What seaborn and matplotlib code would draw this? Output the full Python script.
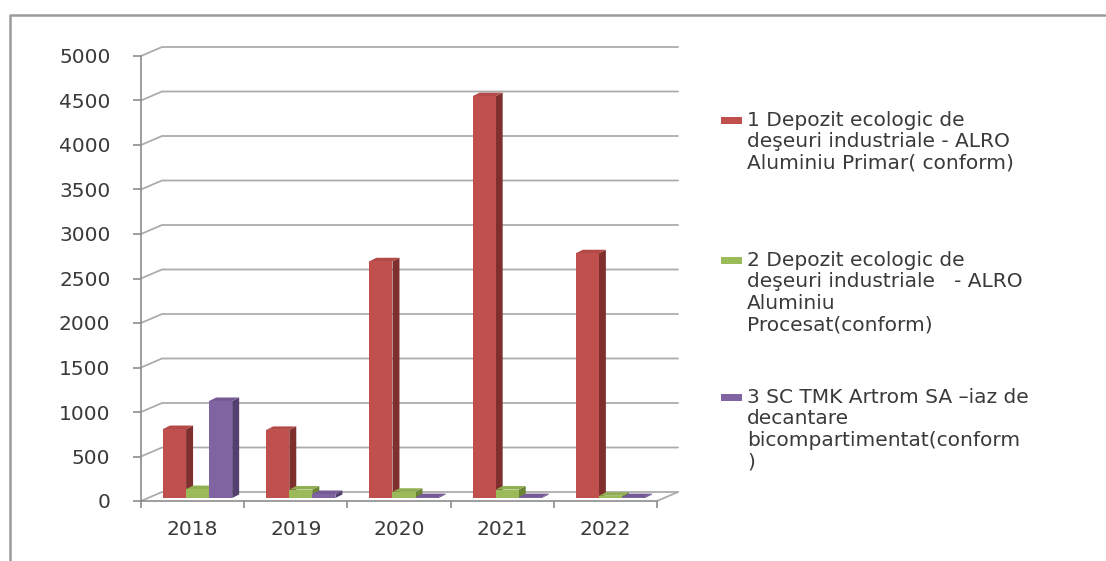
import numpy as np
import pandas as pd
import seaborn as sns
from matplotlib import pyplot as plt
from matplotlib.lines import Line2D
from matplotlib.patches import Polygon, Rectangle
from matplotlib.transforms import Affine2D, IdentityTransform

years = ['2018', '2019', '2020', '2021', '2022']
series_names = [
    '1 Depozit ecologic de\ndeşeuri industriale - ALRO\nAluminiu Primar( conform)',
    '2 Depozit ecologic de\ndeşeuri industriale   - ALRO\nAluminiu\nProcesat(conform)',
    '3 SC TMK Artrom SA \u2013iaz de\ndecantare\nbicompartimentat(conform\n)',
]
alro_primar = [775, 765, 2660, 4515, 2750]
alro_procesat = [100, 95, 70, 95, 25]
tmk_artrom = [1090, 45, 10, 10, 10]
y_ticks = list(range(0, 5001, 500))

front_colors = ['#C0504D', '#9BBB59', '#8064A2']
side_colors = ['#7F302E', '#6A8536', '#53406F']
top_colors = ['#B44A47', '#8FAE4F', '#755B96']

W, H = 1106, 561
DX, DY = 21, 9          # depth of the back wall, pixels
BX, BY = 7, 3.5         # depth of each bar, pixels
SHIFT = (5, 3)          # bars sit a little inside the box

df = pd.DataFrame({
    'year': years * 3,
    'value': alro_primar + alro_procesat + tmk_artrom,
    'series': [series_names[0]] * 5 + [series_names[1]] * 5 + [series_names[2]] * 5,
})

sns.set_style('white')
plt.rcParams['font.family'] = ['DejaVu Sans']
text_col = '#3a3a3a'
grid_col = '#acacac'

fig = plt.figure(figsize=(W / 100, H / 100), dpi=100)
ax = fig.add_axes([141 / W, 60 / H, 516 / W, 445 / H])
sns.barplot(data=df, x='year', y='value', hue='series', hue_order=series_names,
            palette=front_colors, width=0.67, saturation=1, linewidth=0,
            legend=False, ax=ax)
ax.set_xlim(-0.5, 4.5)
ax.set_ylim(0, 5000)
ax.set_xlabel('')
ax.set_ylabel('')
ax.set_yticks(y_ticks)
ax.set_xticks(range(len(years)))
ax.set_xticklabels(years)
ax.set_xticks(np.arange(-0.5, 5, 1), minor=True)
ax.tick_params(axis='y', length=6, width=1.2, color='#8c8c8c', pad=16,
               labelsize=14.5, labelcolor=text_col, left=True)
ax.tick_params(axis='x', which='major', length=0, pad=14,
               labelsize=14.5, labelcolor=text_col)
ax.tick_params(axis='x', which='minor', length=5, width=1.2, color='#8c8c8c',
               bottom=True)
for side in ['top', 'right']:
    ax.spines[side].set_visible(False)
for side in ['left', 'bottom']:
    ax.spines[side].set_color('#8c8c8c')
    ax.spines[side].set_linewidth(1.2)
    ax.spines[side].set_zorder(1.5)
ax.patch.set_alpha(0)

fig.canvas.draw()
td = ax.transData
ident = IdentityTransform()

# back wall gridlines with their slanted lead-in from the axis
for v in y_ticks:
    p = td.transform((-0.5, v))
    r = td.transform((4.5, v))
    ax.add_line(Line2D([p[0], p[0] + DX, r[0] + DX], [p[1], p[1] + DY, r[1] + DY],
                       transform=ident, color=grid_col, lw=1.3, zorder=1,
                       clip_on=False))
r0 = td.transform((4.5, 0))
ax.add_line(Line2D([r0[0], r0[0] + DX], [r0[1], r0[1] + DY], transform=ident,
                   color=grid_col, lw=1.3, zorder=1, clip_on=False))

# fake 3D depth for every bar
shift = Affine2D().translate(*SHIFT)
for i, cont in enumerate(ax.containers):
    for bar in cont:
        bar.set_transform(td + shift)
        bar.set_zorder(2.05 + i * 0.1)
        x0, y0 = td.transform((bar.get_x(), 0))
        x1, y1 = td.transform((bar.get_x() + bar.get_width(), bar.get_height()))
        x0, x1 = x0 + SHIFT[0], x1 + SHIFT[0]
        y0, y1 = y0 + SHIFT[1], y1 + SHIFT[1]
        side = [(x1, y0), (x1 + BX, y0 + BY), (x1 + BX, y1 + BY), (x1, y1)]
        top = [(x0, y1), (x1, y1), (x1 + BX, y1 + BY), (x0 + BX, y1 + BY)]
        ax.add_patch(Polygon(side, closed=True, transform=ident, fc=side_colors[i],
                             lw=0, zorder=2.0 + i * 0.1, clip_on=False))
        ax.add_patch(Polygon(top, closed=True, transform=ident, fc=top_colors[i],
                             lw=0, zorder=2.0 + i * 0.1, clip_on=False))

# legend, key aligned with the first line of each entry
legend_tops = [111, 251, 388]
for name, col, ytop in zip(series_names, front_colors, legend_tops):
    fig.text(747 / W, 1 - ytop / H, name, ha='left', va='top', fontsize=14.5,
             color=text_col, linespacing=1.16)
    fig.add_artist(Rectangle((721 / W, 1 - (ytop + 13) / H), 21 / W, 7 / H,
                             transform=fig.transFigure, fc=col, lw=0))

# outer frame of the chart (left and top edges only)
fig.add_artist(Line2D([10 / W, 10 / W, 1.05], [-0.05, 1 - 15 / H, 1 - 15 / H],
                      transform=fig.transFigure, color='#9a9a9a', lw=1.8,
                      clip_on=False))

fig.savefig('out.png', dpi=100, facecolor='white')
